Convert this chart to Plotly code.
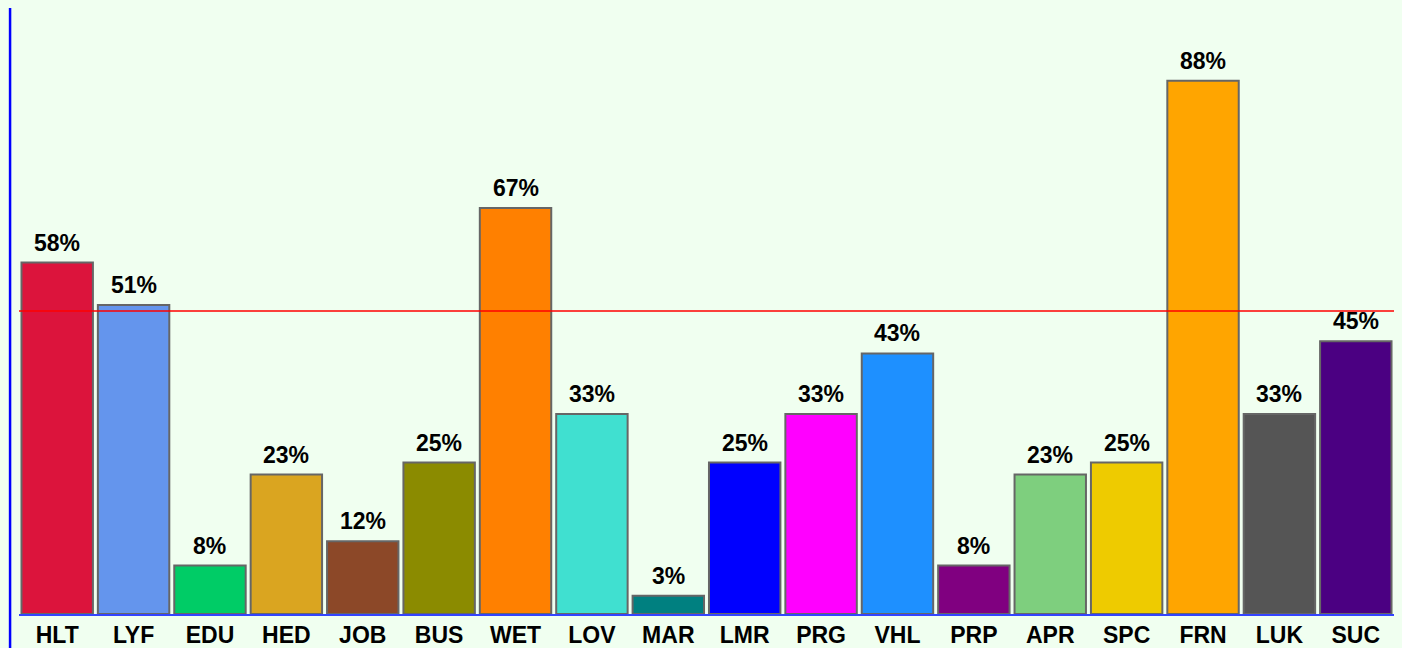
import plotly.graph_objects as go

categories = ["HLT", "LYF", "EDU", "HED", "JOB", "BUS", "WET", "LOV", "MAR",
              "LMR", "PRG", "VHL", "PRP", "APR", "SPC", "FRN", "LUK", "SUC"]
values = [58, 51, 8, 23, 12, 25, 67, 33, 3, 25, 33, 43, 8, 23, 25, 88, 33, 45]
colors = ["#DC143C", "#6495ED", "#00CC66", "#DAA520", "#8C4828", "#8B8B00",
          "#FF8000", "#40E0D0", "#008080", "#0000FF", "#FF00FF", "#1E90FF",
          "#800080", "#7ECF7E", "#EECB00", "#FFA500", "#555555", "#4B0082"]
reference_level = 50
labels = [f"{v}%" for v in values]

font_family = "Liberation Sans, Arial, sans-serif"
bg = "#F0FFF0"

fig = go.Figure()
fig.add_trace(go.Bar(
    x=categories, y=values,
    marker=dict(color=colors, line=dict(color="#666666", width=2)),
    hoverinfo="x+y",
))

for c, v, t in zip(categories, values, labels):
    fig.add_annotation(x=c, y=v, text=t, showarrow=False, yanchor="bottom",
                       yshift=5, font=dict(family=font_family, size=23,
                                           color="black", weight="bold"))

fig.add_shape(type="line", xref="paper", yref="y", x0=0, x1=1,
              y0=reference_level, y1=reference_level,
              line=dict(color="#FF0000", width=1.5))
# left vertical blue rule
fig.add_shape(type="line", xref="paper", yref="paper", x0=-0.0065, x1=-0.0065,
              y0=1, y1=-0.07, line=dict(color="#0000FF", width=2.5))

fig.update_layout(
    width=1402, height=648,
    margin=dict(l=19, r=8, t=8, b=34),
    paper_bgcolor=bg, plot_bgcolor=bg,
    bargap=0.065,
    showlegend=False,
    xaxis=dict(showgrid=False, showline=True, linecolor="#3344FF", linewidth=1.5,
               automargin=False, ticks="",
               tickfont=dict(family=font_family, size=23, color="black",
                             weight="bold")),
    yaxis=dict(range=[0, 100], showgrid=False, showticklabels=False,
               zeroline=False, showline=False, automargin=False),
)

fig.write_html(
    "out.html",
    config={"displayModeBar": False},
    post_script="document.body.style.margin='0';document.body.style.background='%s';" % bg,
)
